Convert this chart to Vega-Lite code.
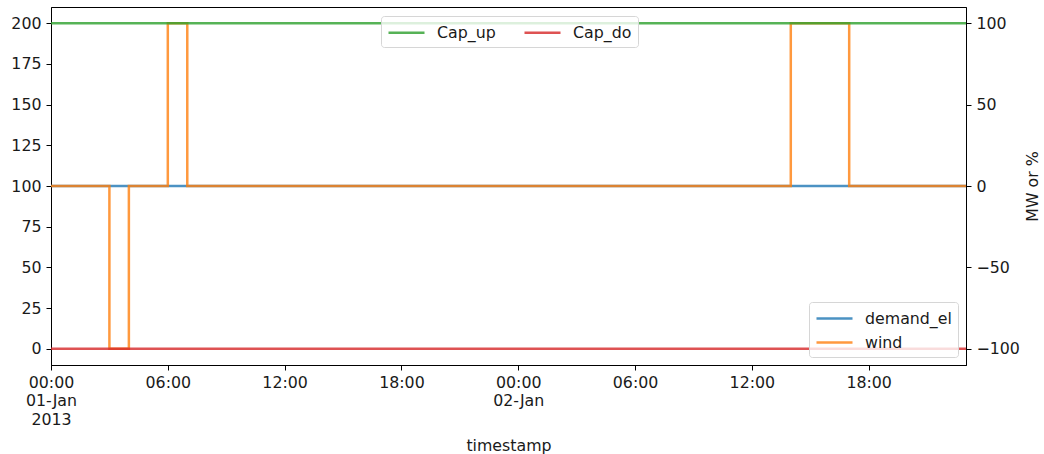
{
  "$schema": "https://vega.github.io/schema/vega-lite/v6.json",
  "width": 915,
  "height": 358,
  "autosize": {"type": "pad"},
  "padding": {"left": 10, "top": 7, "right": 0, "bottom": 0},
  "config": {
    "view": {"stroke": "black", "strokeWidth": 1},
    "font": "DejaVu Sans",
    "axis": {
      "domainColor": "black",
      "tickColor": "black",
      "labelColor": "#1a1a1a",
      "titleColor": "#1a1a1a",
      "labelFont": "DejaVu Sans",
      "titleFont": "DejaVu Sans",
      "labelFontSize": 15.8,
      "titleFontSize": 15.8,
      "titleFontWeight": "normal",
      "tickSize": 5,
      "labelPadding": 5,
      "grid": false
    },
    "legend": {
      "labelFont": "DejaVu Sans",
      "labelFontSize": 15.8,
      "labelColor": "#1a1a1a",
      "fillColor": "rgba(255,255,255,0.8)",
      "strokeColor": "#d6d6d6",
      "cornerRadius": 3,
      "padding": 6,
      "symbolType": "M-1,0L3,0",
      "symbolSize": 324,
      "symbolStrokeWidth": 2.5,
      "symbolFillColor": "transparent",
      "symbolOpacity": 0.8,
      "labelOffset": 29
    }
  },
  "data": {
    "values": [
      {"t": "2013-01-01T00:00:00Z", "demand_el": 100, "wind": 100, "Cap_up": 100, "Cap_do": -100},
      {"t": "2013-01-01T01:00:00Z", "demand_el": 100, "wind": 100, "Cap_up": 100, "Cap_do": -100},
      {"t": "2013-01-01T02:00:00Z", "demand_el": 100, "wind": 100, "Cap_up": 100, "Cap_do": -100},
      {"t": "2013-01-01T03:00:00Z", "demand_el": 100, "wind": 0, "Cap_up": 100, "Cap_do": -100},
      {"t": "2013-01-01T04:00:00Z", "demand_el": 100, "wind": 100, "Cap_up": 100, "Cap_do": -100},
      {"t": "2013-01-01T05:00:00Z", "demand_el": 100, "wind": 100, "Cap_up": 100, "Cap_do": -100},
      {"t": "2013-01-01T06:00:00Z", "demand_el": 100, "wind": 200, "Cap_up": 100, "Cap_do": -100},
      {"t": "2013-01-01T07:00:00Z", "demand_el": 100, "wind": 100, "Cap_up": 100, "Cap_do": -100},
      {"t": "2013-01-01T08:00:00Z", "demand_el": 100, "wind": 100, "Cap_up": 100, "Cap_do": -100},
      {"t": "2013-01-01T09:00:00Z", "demand_el": 100, "wind": 100, "Cap_up": 100, "Cap_do": -100},
      {"t": "2013-01-01T10:00:00Z", "demand_el": 100, "wind": 100, "Cap_up": 100, "Cap_do": -100},
      {"t": "2013-01-01T11:00:00Z", "demand_el": 100, "wind": 100, "Cap_up": 100, "Cap_do": -100},
      {"t": "2013-01-01T12:00:00Z", "demand_el": 100, "wind": 100, "Cap_up": 100, "Cap_do": -100},
      {"t": "2013-01-01T13:00:00Z", "demand_el": 100, "wind": 100, "Cap_up": 100, "Cap_do": -100},
      {"t": "2013-01-01T14:00:00Z", "demand_el": 100, "wind": 100, "Cap_up": 100, "Cap_do": -100},
      {"t": "2013-01-01T15:00:00Z", "demand_el": 100, "wind": 100, "Cap_up": 100, "Cap_do": -100},
      {"t": "2013-01-01T16:00:00Z", "demand_el": 100, "wind": 100, "Cap_up": 100, "Cap_do": -100},
      {"t": "2013-01-01T17:00:00Z", "demand_el": 100, "wind": 100, "Cap_up": 100, "Cap_do": -100},
      {"t": "2013-01-01T18:00:00Z", "demand_el": 100, "wind": 100, "Cap_up": 100, "Cap_do": -100},
      {"t": "2013-01-01T19:00:00Z", "demand_el": 100, "wind": 100, "Cap_up": 100, "Cap_do": -100},
      {"t": "2013-01-01T20:00:00Z", "demand_el": 100, "wind": 100, "Cap_up": 100, "Cap_do": -100},
      {"t": "2013-01-01T21:00:00Z", "demand_el": 100, "wind": 100, "Cap_up": 100, "Cap_do": -100},
      {"t": "2013-01-01T22:00:00Z", "demand_el": 100, "wind": 100, "Cap_up": 100, "Cap_do": -100},
      {"t": "2013-01-01T23:00:00Z", "demand_el": 100, "wind": 100, "Cap_up": 100, "Cap_do": -100},
      {"t": "2013-01-02T00:00:00Z", "demand_el": 100, "wind": 100, "Cap_up": 100, "Cap_do": -100},
      {"t": "2013-01-02T01:00:00Z", "demand_el": 100, "wind": 100, "Cap_up": 100, "Cap_do": -100},
      {"t": "2013-01-02T02:00:00Z", "demand_el": 100, "wind": 100, "Cap_up": 100, "Cap_do": -100},
      {"t": "2013-01-02T03:00:00Z", "demand_el": 100, "wind": 100, "Cap_up": 100, "Cap_do": -100},
      {"t": "2013-01-02T04:00:00Z", "demand_el": 100, "wind": 100, "Cap_up": 100, "Cap_do": -100},
      {"t": "2013-01-02T05:00:00Z", "demand_el": 100, "wind": 100, "Cap_up": 100, "Cap_do": -100},
      {"t": "2013-01-02T06:00:00Z", "demand_el": 100, "wind": 100, "Cap_up": 100, "Cap_do": -100},
      {"t": "2013-01-02T07:00:00Z", "demand_el": 100, "wind": 100, "Cap_up": 100, "Cap_do": -100},
      {"t": "2013-01-02T08:00:00Z", "demand_el": 100, "wind": 100, "Cap_up": 100, "Cap_do": -100},
      {"t": "2013-01-02T09:00:00Z", "demand_el": 100, "wind": 100, "Cap_up": 100, "Cap_do": -100},
      {"t": "2013-01-02T10:00:00Z", "demand_el": 100, "wind": 100, "Cap_up": 100, "Cap_do": -100},
      {"t": "2013-01-02T11:00:00Z", "demand_el": 100, "wind": 100, "Cap_up": 100, "Cap_do": -100},
      {"t": "2013-01-02T12:00:00Z", "demand_el": 100, "wind": 100, "Cap_up": 100, "Cap_do": -100},
      {"t": "2013-01-02T13:00:00Z", "demand_el": 100, "wind": 100, "Cap_up": 100, "Cap_do": -100},
      {"t": "2013-01-02T14:00:00Z", "demand_el": 100, "wind": 200, "Cap_up": 100, "Cap_do": -100},
      {"t": "2013-01-02T15:00:00Z", "demand_el": 100, "wind": 200, "Cap_up": 100, "Cap_do": -100},
      {"t": "2013-01-02T16:00:00Z", "demand_el": 100, "wind": 200, "Cap_up": 100, "Cap_do": -100},
      {"t": "2013-01-02T17:00:00Z", "demand_el": 100, "wind": 100, "Cap_up": 100, "Cap_do": -100},
      {"t": "2013-01-02T18:00:00Z", "demand_el": 100, "wind": 100, "Cap_up": 100, "Cap_do": -100},
      {"t": "2013-01-02T19:00:00Z", "demand_el": 100, "wind": 100, "Cap_up": 100, "Cap_do": -100},
      {"t": "2013-01-02T20:00:00Z", "demand_el": 100, "wind": 100, "Cap_up": 100, "Cap_do": -100},
      {"t": "2013-01-02T21:00:00Z", "demand_el": 100, "wind": 100, "Cap_up": 100, "Cap_do": -100},
      {"t": "2013-01-02T22:00:00Z", "demand_el": 100, "wind": 100, "Cap_up": 100, "Cap_do": -100},
      {"t": "2013-01-02T23:00:00Z", "demand_el": 100, "wind": 100, "Cap_up": 100, "Cap_do": -100}
    ]
  },
  "layer": [
    {
      "transform": [{"fold": ["demand_el", "wind"], "as": ["series", "val"]}],
      "mark": {"type": "line", "interpolate": "step-after", "strokeWidth": 2.5, "opacity": 0.8, "clip": true},
      "encoding": {
        "x": {
          "field": "t",
          "type": "temporal",
          "scale": {
            "type": "utc",
            "nice": false,
            "domain": [
              {"year": 2013, "month": 1, "date": 1, "hours": 0, "utc": true},
              {"year": 2013, "month": 1, "date": 2, "hours": 23, "utc": true}
            ]
          },
          "axis": {
            "title": "timestamp",
            "titlePadding": 12,
            "labelAlign": "center",
            "labelBaseline": "top",
            "labelLineHeight": 18.5,
            "labelFlush": false,
            "labelOverlap": false,
            "values": [
              {"year": 2013, "month": 1, "date": 1, "hours": 0, "utc": true},
              {"year": 2013, "month": 1, "date": 1, "hours": 6, "utc": true},
              {"year": 2013, "month": 1, "date": 1, "hours": 12, "utc": true},
              {"year": 2013, "month": 1, "date": 1, "hours": 18, "utc": true},
              {"year": 2013, "month": 1, "date": 2, "hours": 0, "utc": true},
              {"year": 2013, "month": 1, "date": 2, "hours": 6, "utc": true},
              {"year": 2013, "month": 1, "date": 2, "hours": 12, "utc": true},
              {"year": 2013, "month": 1, "date": 2, "hours": 18, "utc": true}
            ],
            "labelExpr": "utchours(datum.value) == 0 ? (utcdate(datum.value) == 1 ? [utcFormat(datum.value, '%H:%M'), utcFormat(datum.value, '%d-%b'), '2013'] : [utcFormat(datum.value, '%H:%M'), utcFormat(datum.value, '%d-%b')]) : utcFormat(datum.value, '%H:%M')"
          }
        },
        "y": {
          "field": "val",
          "type": "quantitative",
          "scale": {"domain": [-10, 210], "nice": false, "zero": false},
          "axis": {"orient": "left", "title": null, "values": [0, 25, 50, 75, 100, 125, 150, 175, 200]}
        },
        "color": {
          "field": "series",
          "type": "nominal",
          "scale": {"domain": ["demand_el", "wind"], "range": ["#1f77b4", "#ff7f0e"]},
          "legend": {
            "title": null,
            "orient": "none",
            "legendX": 758,
            "legendY": 295,
            "direction": "vertical",
            "rowPadding": 5
          }
        }
      }
    },
    {
      "transform": [{"fold": ["Cap_up", "Cap_do"], "as": ["series", "val"]}],
      "mark": {"type": "line", "interpolate": "step-after", "strokeWidth": 2.5, "opacity": 0.8, "clip": true},
      "encoding": {
        "x": {"field": "t", "type": "temporal"},
        "y": {
          "field": "val",
          "type": "quantitative",
          "scale": {"domain": [-110, 110], "nice": false, "zero": false},
          "axis": {
            "orient": "right",
            "title": "MW or %",
            "titleAngle": 270,
            "titleBaseline": "top",
            "titlePadding": 6,
            "values": [-100, -50, 0, 50, 100]
          }
        },
        "color": {
          "field": "series",
          "type": "nominal",
          "scale": {"domain": ["Cap_up", "Cap_do"], "range": ["#2ca02c", "#d62728"]},
          "legend": {
            "title": null,
            "orient": "none",
            "legendX": 330,
            "legendY": 9,
            "direction": "horizontal",
            "columns": 2,
            "columnPadding": 23
          }
        }
      }
    }
  ],
  "resolve": {"scale": {"y": "independent", "color": "independent"}}
}
